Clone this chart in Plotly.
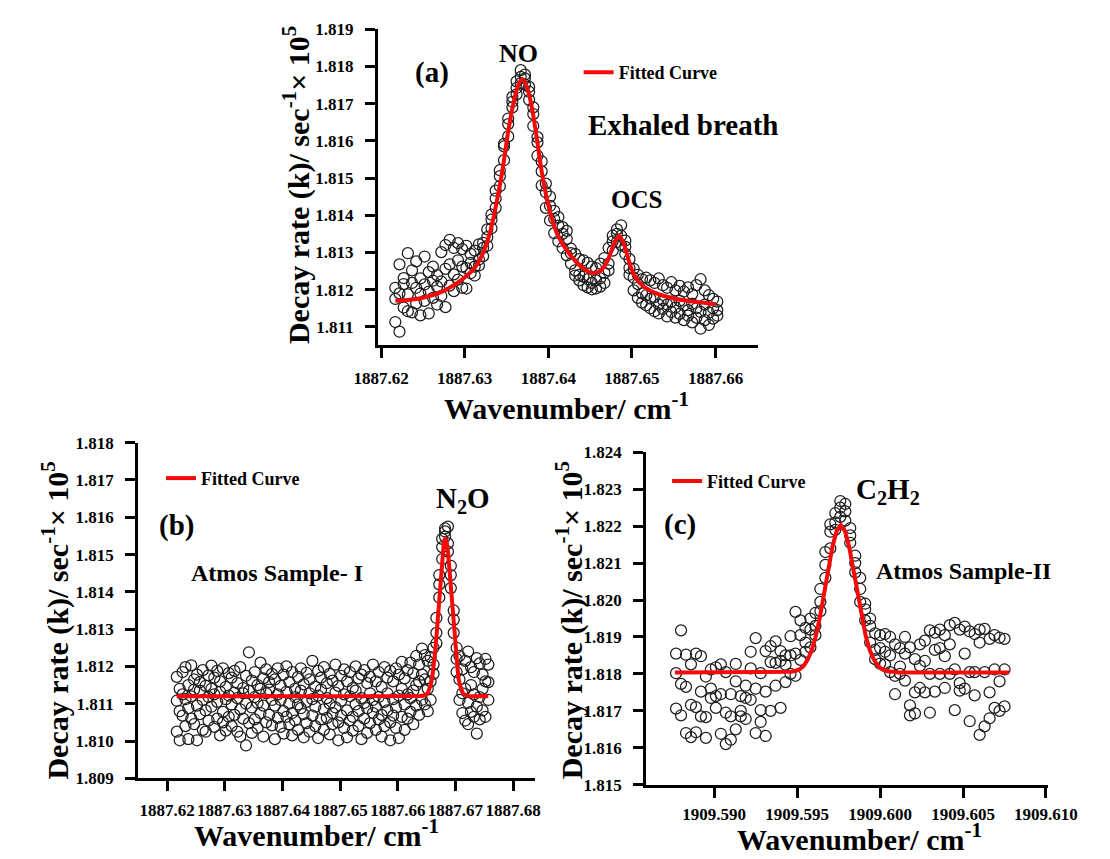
import plotly.graph_objects as go

SERIF = "Liberation Serif, 'Times New Roman', Times, serif"
W, H = 1110, 859

# ---------------- wavenumber scan grid shared by panels (a) and (b) ----------------
wn_1887 = [
    1887.6217, 1887.6222, 1887.6227, 1887.6232, 1887.6237, 1887.6242, 1887.6247, 1887.6252, 1887.6257, 1887.6262,
    1887.6267, 1887.6272, 1887.6277, 1887.6282, 1887.6287, 1887.6292, 1887.6297, 1887.6302, 1887.6307, 1887.6312,
    1887.6317, 1887.6322, 1887.6327, 1887.6332, 1887.6337, 1887.6342, 1887.6347, 1887.6352, 1887.6357, 1887.6362,
    1887.6367, 1887.6372, 1887.6377, 1887.6382, 1887.6387, 1887.6392, 1887.6397, 1887.6402, 1887.6407, 1887.6412,
    1887.6417, 1887.6422, 1887.6427, 1887.6432, 1887.6437, 1887.6442, 1887.6447, 1887.6452, 1887.6457, 1887.6462,
    1887.6467, 1887.6472, 1887.6477, 1887.6482, 1887.6487, 1887.6492, 1887.6497, 1887.6502, 1887.6507, 1887.6512,
    1887.6517, 1887.6522, 1887.6527, 1887.6532, 1887.6537, 1887.6542, 1887.6547, 1887.6552, 1887.6557, 1887.6562,
    1887.6567, 1887.6572, 1887.6577, 1887.6582, 1887.6587, 1887.6592, 1887.6597, 1887.6602, 1887.6607, 1887.6612,
    1887.6617, 1887.6622, 1887.6627, 1887.6632, 1887.6637, 1887.6642, 1887.6647, 1887.6652, 1887.6657, 1887.6662,
    1887.6667, 1887.6672, 1887.6677, 1887.6682, 1887.6687, 1887.6692, 1887.6697, 1887.6702, 1887.6707, 1887.6712,
    1887.6717, 1887.6722, 1887.6727, 1887.6732, 1887.6737, 1887.6742, 1887.6747, 1887.6752, 1887.6757,
]

# ---------------- (a) exhaled breath: NO + OCS ----------------
a_wn = wn_1887[:78]
a_scan1 = [
    1.81175, 1.81268, 1.81231, 1.81298, 1.81252, 1.81276, 1.81230, 1.81289, 1.81247, 1.81262,
    1.81239, 1.81301, 1.81320, 1.81334, 1.81312, 1.81325, 1.81309, 1.81318, 1.81296, 1.81305,
    1.81322, 1.81326, 1.81362, 1.81402, 1.81466, 1.81521, 1.81585, 1.81660, 1.81718, 1.81760,
    1.81790, 1.81778, 1.81745, 1.81672, 1.81596, 1.81518, 1.81462, 1.81425, 1.81390, 1.81372,
    1.81350, 1.81336, 1.81310, 1.81296, 1.81282, 1.81279, 1.81272, 1.81262, 1.81258, 1.81270,
    1.81285, 1.81312, 1.81345, 1.81362, 1.81373, 1.81332, 1.81258, 1.81232, 1.81215, 1.81228,
    1.81232, 1.81225, 1.81218, 1.81230, 1.81212, 1.81205, 1.81220, 1.81198, 1.81210, 1.81195,
    1.81206, 1.81188, 1.81212, 1.81228, 1.81198, 1.81185, 1.81175, 1.81168,
]
a_scan2 = [
    1.81113, 1.81190, 1.81152, 1.81187, 1.81139, 1.81205, 1.81131, 1.81214, 1.81195, 1.81178,
    1.81208, 1.81222, 1.81256, 1.81268, 1.81241, 1.81279, 1.81262, 1.81258, 1.81244, 1.81262,
    1.81281, 1.81290, 1.81318, 1.81365, 1.81420, 1.81478, 1.81548, 1.81612, 1.81690, 1.81742,
    1.81772, 1.81751, 1.81710, 1.81640, 1.81560, 1.81480, 1.81420, 1.81386, 1.81352, 1.81330,
    1.81312, 1.81292, 1.81270, 1.81252, 1.81240, 1.81235, 1.81228, 1.81218, 1.81225, 1.81230,
    1.81245, 1.81270, 1.81305, 1.81328, 1.81345, 1.81296, 1.81240, 1.81198, 1.81178, 1.81165,
    1.81158, 1.81150, 1.81142, 1.81160, 1.81148, 1.81128, 1.81140, 1.81125, 1.81135, 1.81118,
    1.81130, 1.81112, 1.81125, 1.81095, 1.81118, 1.81105, 1.81122, 1.81130,
]
a_scan3 = [
    1.81205, 1.81087, 1.81215, 1.81142, 1.81218, 1.81163, 1.81189, 1.81170, 1.81136, 1.81224,
    1.81160, 1.81183, 1.81153, 1.81211, 1.81196, 1.81227, 1.81205, 1.81203, 1.81272, 1.81238,
    1.81265, 1.81312, 1.81341, 1.81388, 1.81445, 1.81505, 1.81592, 1.81645, 1.81705, 1.81725,
    1.81755, 1.81768, 1.81732, 1.81690, 1.81610, 1.81545, 1.81485, 1.81450, 1.81412, 1.81395,
    1.81368, 1.81358, 1.81298, 1.81238, 1.81225, 1.81212, 1.81206, 1.81201, 1.81203, 1.81208,
    1.81218, 1.81252, 1.81330, 1.81350, 1.81320, 1.81315, 1.81282, 1.81256, 1.81240, 1.81190,
    1.81185, 1.81176, 1.81180, 1.81136, 1.81172, 1.81160, 1.81168, 1.81152, 1.81170, 1.81158,
    1.81145, 1.81162, 1.81150, 1.81140, 1.81160, 1.81138, 1.81150, 1.81145,
]
a_fit_wn = [
    1887.62171, 1887.62322, 1887.62512, 1887.62702, 1887.62853, 1887.62967, 1887.63081, 1887.63157,
    1887.63233, 1887.63308, 1887.63384, 1887.63460, 1887.63517, 1887.63574, 1887.63631, 1887.63687,
    1887.63744, 1887.63801, 1887.63858, 1887.63915, 1887.63972, 1887.64028, 1887.64105, 1887.64218,
    1887.64332, 1887.64446, 1887.64541, 1887.64636, 1887.64711, 1887.64787, 1887.64844, 1887.64901,
    1887.64958, 1887.65014, 1887.65091, 1887.65204, 1887.65356, 1887.65546, 1887.65735, 1887.66001,
]
a_fit_k = [
    1.81170, 1.81172, 1.81179, 1.81192, 1.81210, 1.81227, 1.81249, 1.81271,
    1.81306, 1.81358, 1.81437, 1.81534, 1.81621, 1.81692, 1.81744, 1.81766,
    1.81744, 1.81692, 1.81613, 1.81525, 1.81455, 1.81402, 1.81350, 1.81306,
    1.81275, 1.81253, 1.81245, 1.81253, 1.81280, 1.81324, 1.81345, 1.81324,
    1.81280, 1.81245, 1.81218, 1.81199, 1.81185, 1.81174, 1.81168, 1.81161,
]

# ---------------- (b) atmospheric sample I: N2O ----------------
b_wn = wn_1887
b_scan1 = [
    1.81172, 1.81140, 1.81185, 1.81112, 1.81150, 1.81203, 1.81165, 1.81178, 1.81135, 1.81190,
    1.81148, 1.81176, 1.81202, 1.81125, 1.81188, 1.81160, 1.81195, 1.81145, 1.81182, 1.81170,
    1.81130, 1.81155, 1.81198, 1.81142, 1.81175, 1.81238, 1.81162, 1.81185, 1.81150, 1.81210,
    1.81168, 1.81192, 1.81138, 1.81180, 1.81165, 1.81195, 1.81148, 1.81178, 1.81200, 1.81158,
    1.81185, 1.81140, 1.81172, 1.81195, 1.81152, 1.81183, 1.81165, 1.81215, 1.81145, 1.81188,
    1.81170, 1.81198, 1.81155, 1.81180, 1.81162, 1.81205, 1.81148, 1.81175, 1.81192, 1.81160,
    1.81185, 1.81142, 1.81200, 1.81168, 1.81178, 1.81190, 1.81155, 1.81172, 1.81205, 1.81160,
    1.81185, 1.81145, 1.81198, 1.81170, 1.81188, 1.81160, 1.81195, 1.81178, 1.81212, 1.81168,
    1.81190, 1.81210, 1.81182, 1.81228, 1.81205, 1.81248, 1.81230, 1.81215, 1.81225, 1.81250,
    1.81330, 1.81420, 1.81520, 1.81570, 1.81575, 1.81445, 1.81325, 1.81220, 1.81165, 1.81192,
    1.81215, 1.81240, 1.81198, 1.81185, 1.81222, 1.81208, 1.81178, 1.81220, 1.81205,
]
b_scan2 = [
    1.81025, 1.81002, 1.81068, 1.81198, 1.81005, 1.81120, 1.81045, 1.81095, 1.81158, 1.81030,
    1.81082, 1.81118, 1.81092, 1.81038, 1.81060, 1.81015, 1.81078, 1.81112, 1.81065, 1.81040,
    1.81188, 1.81025, 1.81085, 1.81060, 1.81100, 1.81048, 1.81090, 1.81118, 1.81035, 1.81075,
    1.81012, 1.81128, 1.81070, 1.81042, 1.81095, 1.81062, 1.81110, 1.81080, 1.81132, 1.81045,
    1.81075, 1.81118, 1.81030, 1.81088, 1.81010, 1.81105, 1.81128, 1.81068, 1.81040, 1.81122,
    1.81058, 1.81085, 1.81115, 1.81018, 1.81075, 1.81130, 1.81050, 1.81108, 1.81035, 1.81082,
    1.81120, 1.81065, 1.81098, 1.81040, 1.81115, 1.81060, 1.81088, 1.81128, 1.81075, 1.81030,
    1.81118, 1.81070, 1.81105, 1.81082, 1.81050, 1.81112, 1.81035, 1.81122, 1.81065, 1.81098,
    1.81125, 1.81078, 1.81135, 1.81095, 1.81160, 1.81110, 1.81165, 1.81140, 1.81160, 1.81205,
    1.81290, 1.81385, 1.81488, 1.81548, 1.81530, 1.81410, 1.81290, 1.81185, 1.81110, 1.81075,
    1.81055, 1.81102, 1.81150, 1.81065, 1.81092, 1.81118, 1.81082, 1.81160, 1.81110,
]
b_scan3 = [
    1.81108, 1.81080, 1.81125, 1.81040, 1.81088, 1.81060, 1.81138, 1.81002, 1.81072, 1.81110,
    1.81025, 1.81055, 1.81140, 1.81170, 1.81105, 1.81132, 1.81050, 1.81028, 1.81122, 1.81098,
    1.81070, 1.81115, 1.81012, 1.81128, 1.80988, 1.81135, 1.81022, 1.81058, 1.81102, 1.81140,
    1.81095, 1.81050, 1.81158, 1.81110, 1.81005, 1.81125, 1.81038, 1.81020, 1.81065, 1.81100,
    1.81015, 1.81055, 1.81098, 1.81135, 1.81072, 1.81048, 1.81025, 1.81112, 1.81092, 1.81008,
    1.81138, 1.81030, 1.81062, 1.81100, 1.81045, 1.81090, 1.81002, 1.81068, 1.81125, 1.81010,
    1.81055, 1.81028, 1.81135, 1.81080, 1.81005, 1.81102, 1.81022, 1.81048, 1.81110, 1.81092,
    1.81058, 1.81012, 1.81040, 1.81128, 1.81002, 1.81068, 1.81090, 1.81008, 1.81140, 1.81030,
    1.81060, 1.81115, 1.81045, 1.81150, 1.81070, 1.81178, 1.81098, 1.81080, 1.81110, 1.81180,
    1.81262, 1.81445, 1.81542, 1.81562, 1.81508, 1.81470, 1.81350, 1.81250, 1.81228, 1.81128,
    1.81140, 1.81045, 1.81078, 1.81125, 1.81020, 1.81058, 1.81140, 1.81065, 1.81158,
]
b_fit_wn = [
    1887.6217, 1887.6637, 1887.66424, 1887.66474, 1887.66499, 1887.66524, 1887.66549, 1887.66574,
    1887.66599, 1887.66624, 1887.66649, 1887.66674, 1887.66699, 1887.66724, 1887.66749, 1887.66774,
    1887.66799, 1887.66824, 1887.66849, 1887.66874, 1887.66899, 1887.66924, 1887.66949, 1887.66974,
    1887.66999, 1887.67024, 1887.67049, 1887.67074, 1887.67099, 1887.67124, 1887.67149, 1887.67174,
    1887.67224, 1887.67274, 1887.6757,
]
b_fit_k = [
    1.81120, 1.81120, 1.81121, 1.81123, 1.81125, 1.81130, 1.81139, 1.81152,
    1.81172, 1.81201, 1.81240, 1.81287, 1.81342, 1.81401, 1.81456, 1.81502,
    1.81533, 1.81545, 1.81533, 1.81502, 1.81456, 1.81401, 1.81342, 1.81287,
    1.81240, 1.81201, 1.81172, 1.81152, 1.81139, 1.81130, 1.81125, 1.81123,
    1.81121, 1.81120, 1.81120,
]

# ---------------- (c) atmospheric sample II: C2H2 ----------------
c_wn = [
    1909.5877, 1909.5880, 1909.5883, 1909.5886, 1909.5889, 1909.5892, 1909.5895, 1909.5898, 1909.5901, 1909.5904,
    1909.5907, 1909.5910, 1909.5913, 1909.5916, 1909.5919, 1909.5922, 1909.5925, 1909.5928, 1909.5931, 1909.5934,
    1909.5937, 1909.5940, 1909.5943, 1909.5946, 1909.5949, 1909.5952, 1909.5955, 1909.5958, 1909.5961, 1909.5964,
    1909.5967, 1909.5970, 1909.5973, 1909.5976, 1909.5979, 1909.5982, 1909.5985, 1909.5988, 1909.5991, 1909.5994,
    1909.5997, 1909.6000, 1909.6003, 1909.6006, 1909.6009, 1909.6012, 1909.6015, 1909.6018, 1909.6021, 1909.6024,
    1909.6027, 1909.6030, 1909.6033, 1909.6036, 1909.6039, 1909.6042, 1909.6045, 1909.6048, 1909.6051, 1909.6054,
    1909.6057, 1909.6060, 1909.6063, 1909.6066, 1909.6069, 1909.6072, 1909.6075,
]
c_scan1 = [
    1.81855, 1.81688, 1.81640, 1.81629, 1.81855, 1.81848, 1.81793, 1.81760, 1.81818, 1.81826,
    1.81610, 1.81622, 1.81780, 1.81700, 1.81735, 1.81860, 1.81897, 1.81802, 1.81862, 1.81875,
    1.81888, 1.81835, 1.81850, 1.81902, 1.81968, 1.81945, 1.81925, 1.81920, 1.81965, 1.82030,
    1.82095, 1.82185, 1.82235, 1.82268, 1.82240, 1.82195, 1.82120, 1.82030, 1.81975, 1.81930,
    1.81910, 1.81905, 1.81908, 1.81900, 1.81880, 1.81870, 1.81855, 1.81872, 1.81840, 1.81880,
    1.81890, 1.81918, 1.81912, 1.81920, 1.81905, 1.81932, 1.81938, 1.81920, 1.81928, 1.81915,
    1.81908, 1.81920, 1.81922, 1.81895, 1.81905, 1.81898, 1.81895,
]
c_scan2 = [
    1.81706, 1.81773, 1.81852, 1.81716, 1.81642, 1.81685, 1.81683, 1.81735, 1.81708, 1.81638,
    1.81695, 1.81745, 1.81650, 1.81740, 1.81678, 1.81815, 1.81640, 1.81702, 1.81632, 1.81832,
    1.81768, 1.81708, 1.81778, 1.81800, 1.81795, 1.81838, 1.81860, 1.81872, 1.81930, 1.81995,
    1.82060, 1.82140, 1.82210, 1.82225, 1.82215, 1.82155, 1.82075, 1.81995, 1.81945, 1.81885,
    1.81865, 1.81870, 1.81860, 1.81805, 1.81795, 1.81800, 1.81900, 1.81715, 1.81750, 1.81822,
    1.81835, 1.81800, 1.81865, 1.81870, 1.81848, 1.81880, 1.81812, 1.81775, 1.81855, 1.81805,
    1.81805, 1.81885, 1.81805, 1.81750, 1.81812, 1.81780, 1.81812,
]
c_scan3 = [
    1.81802, 1.81918, 1.81765, 1.81826, 1.81710, 1.81752, 1.81627, 1.81812, 1.81740, 1.81745,
    1.81805, 1.81685, 1.81827, 1.81685, 1.81768, 1.81730, 1.81760, 1.81670, 1.81752, 1.81700,
    1.81830, 1.81862, 1.81825, 1.81850, 1.81855, 1.81905, 1.81885, 1.81950, 1.81905, 1.81970,
    1.82130, 1.82205, 1.82190, 1.82250, 1.82260, 1.82175, 1.82100, 1.82060, 1.81990, 1.81950,
    1.81840, 1.81828, 1.81826, 1.81850, 1.81745, 1.81820, 1.81782, 1.81688, 1.81693, 1.81762,
    1.81750, 1.81695, 1.81752, 1.81800, 1.81762, 1.81800, 1.81702, 1.81755, 1.81760, 1.81672,
    1.81742, 1.81635, 1.81658, 1.81680, 1.81708, 1.81700, 1.81712,
]
c_fit_wn = [
    1909.58763, 1909.59413, 1909.59463, 1909.59488, 1909.59513, 1909.59538, 1909.59563, 1909.59588,
    1909.59613, 1909.59638, 1909.59663, 1909.59688, 1909.59713, 1909.59738, 1909.59763, 1909.59788,
    1909.59813, 1909.59838, 1909.59863, 1909.59888, 1909.59913, 1909.59938, 1909.59963, 1909.59988,
    1909.60013, 1909.60038, 1909.60063, 1909.60113, 1909.60778,
]
c_fit_k = [
    1.81804, 1.81804, 1.81806, 1.81808, 1.81812, 1.81821, 1.81838, 1.81864,
    1.81903, 1.81956, 1.82019, 1.82085, 1.82145, 1.82187, 1.82202, 1.82187,
    1.82145, 1.82085, 1.82019, 1.81956, 1.81903, 1.81864, 1.81838, 1.81821,
    1.81812, 1.81808, 1.81806, 1.81804, 1.81804,
]

# ---------------- tick values ----------------
a_xticks = [1887.62, 1887.63, 1887.64, 1887.65, 1887.66]
a_yticks = [1.811, 1.812, 1.813, 1.814, 1.815, 1.816, 1.817, 1.818, 1.819]
b_xticks = [1887.62, 1887.63, 1887.64, 1887.65, 1887.66, 1887.67, 1887.68]
b_yticks = [1.809, 1.810, 1.811, 1.812, 1.813, 1.814, 1.815, 1.816, 1.817, 1.818]
c_xticks = [1909.590, 1909.595, 1909.600, 1909.605, 1909.610]
c_yticks = [1.815, 1.816, 1.817, 1.818, 1.819, 1.820, 1.821, 1.822, 1.823, 1.824]

FIT_RED = "#f50a0a"
CIRCLE = dict(symbol="circle-open", size=11, color="#1e1e1e", line=dict(width=1.25, color="#1e1e1e"))

fig = go.Figure()


def add_panel(wn, scans, fit_wn, fit_k, xa, ya, legend, smooth):
    xs, ys = [], []
    for s in scans:
        xs += list(wn)
        ys += list(s)
    fig.add_trace(go.Scatter(x=xs, y=ys, mode="markers", marker=CIRCLE,
                             xaxis=xa, yaxis=ya, showlegend=False, hoverinfo="skip"))
    fig.add_trace(go.Scatter(x=fit_wn, y=fit_k, mode="lines", name="<b>Fitted Curve</b>",
                             line=dict(color=FIT_RED, width=4, shape="spline" if smooth else "linear",
                                       smoothing=0.8 if smooth else None),
                             xaxis=xa, yaxis=ya, legend=legend, showlegend=True, hoverinfo="skip"))


add_panel(a_wn, [a_scan1, a_scan2, a_scan3], a_fit_wn, a_fit_k, "x", "y", "legend", True)
add_panel(b_wn, [b_scan1, b_scan2, b_scan3], b_fit_wn, b_fit_k, "x2", "y2", "legend2", False)
add_panel(c_wn, [c_scan1, c_scan2, c_scan3], c_fit_wn, c_fit_k, "x3", "y3", "legend3", False)


def axis(domain, rng, ticks, fmt, anchor, standoff=6, size=17):
    return dict(domain=domain, range=rng, anchor=anchor, tickvals=ticks,
                ticktext=["<b>" + fmt.format(t) + "</b>" for t in ticks], showline=True, linewidth=3,
                linecolor="black", ticks="outside", ticklen=10, tickwidth=3, tickangle=0,
                tickcolor="black", showgrid=False, zeroline=False, mirror=False,
                tickfont=dict(family=SERIF, size=size, color="black"), ticklabelstandoff=standoff)


def px_x(p):
    return p / W


def px_y(p):
    return 1 - p / H


layout = dict(
    width=W, height=H, autosize=False,
    margin=dict(l=0, r=0, t=0, b=0),
    paper_bgcolor="white", plot_bgcolor="rgba(0,0,0,0)",
    xaxis=axis([px_x(372), px_x(772)], [1887.61962, 1887.66512], a_xticks, "{:.2f}", "y"),
    yaxis=axis([px_y(343.3), px_y(20.7)], [1.81052, 1.819], a_yticks, "{:.3f}", "x", 8),
    xaxis2=axis([px_x(120), px_x(537)], [1887.6150, 1887.68377], b_xticks, "{:.2f}", "y2", 4, 17),
    yaxis2=axis([px_y(786.7), px_y(443.5)], [1.809, 1.818], b_yticks, "{:.3f}", "x2", 8),
    xaxis3=axis([px_x(654), px_x(1076)], [1909.5859, 1909.6101], c_xticks, "{:.3f}", "y3", 2),
    yaxis3=axis([px_y(793.3), px_y(453.3)], [1.815, 1.824], c_yticks, "{:.3f}", "x3", 8),
)

LEGFONT = dict(family=SERIF, size=18, color="black")
for name, lx, ly in (("legend", 583, 65), ("legend2", 144, 480), ("legend3", 676, 483)):
    layout[name] = dict(x=px_x(lx), y=px_y(ly), xanchor="left", yanchor="middle",
                        bgcolor="rgba(0,0,0,0)", borderwidth=0, font=LEGFONT)

fig.update_layout(**layout)


def label(text, x, y, size, xref, yref, angle=0):
    fig.add_annotation(text="<b>" + text + "</b>", x=x, y=y, xref=xref, yref=yref,
                       showarrow=False, textangle=angle, xanchor="center", yanchor="middle",
                       font=dict(family=SERIF, size=size, color="black"))


# in-plot labels (data coordinates)
label("(a)", 1887.62614, 1.81784, 29, "x", "y")
label("NO", 1887.63638, 1.81836, 26, "x", "y")
label("Exhaled breath", 1887.65606, 1.81642, 29, "x", "y")
label("OCS", 1887.65049, 1.81442, 25, "x", "y")

label("(b)", 1887.62161, 1.81578, 29, "x2", "y2")
label("N<sub>2</sub>O", 1887.67124, 1.81647, 29, "x2", "y2")
label("Atmos Sample- I", 1887.63908, 1.81450, 24, "x2", "y2")

label("(c)", 1909.58791, 1.82205, 29, "x3", "y3")
label("C<sub>2</sub>H<sub>2</sub>", 1909.60047, 1.82295, 29, "x3", "y3")
label("Atmos Sample-II", 1909.60505, 1.82078, 24, "x3", "y3")

# axis titles
YTITLE = "Decay rate (k)/ sec<sup>-1</sup>× 10<sup>5</sup>"
XTITLE = "Wavenumber/ cm<sup>-1</sup>"
label(YTITLE, px_x(286), px_y(180), 30, "paper", "paper", -90)
label(XTITLE, px_x(570), px_y(406), 30, "paper", "paper")
label(YTITLE, px_x(33), px_y(625), 30, "paper", "paper", -90)
label(XTITLE, px_x(307), px_y(843), 30, "paper", "paper")
label(YTITLE, px_x(573), px_y(625), 30, "paper", "paper", -90)
label(XTITLE, px_x(878), px_y(847), 30, "paper", "paper")

fig.write_html("out.html")
